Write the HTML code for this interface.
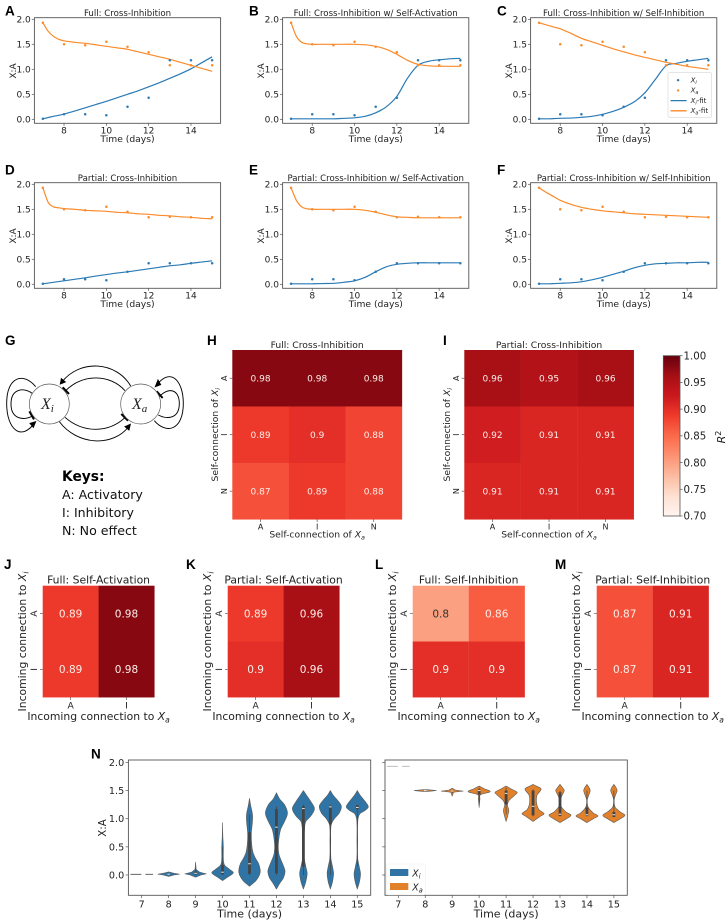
<!DOCTYPE html>
<html lang="en">
<head>
<meta charset="utf-8">
<title>Cross-inhibition model fits</title>
<style>
html,body{margin:0;padding:0;background:#fff;}
#figure{display:block;width:726px;height:920px;font-family:"DejaVu Sans","Liberation Sans",sans-serif;}
</style>
</head>
<body>
<svg id="figure" xmlns="http://www.w3.org/2000/svg" width="726" height="920" viewBox="0 0 726 920">
  <g transform="translate(0,330) scale(0.3333)" fill="none" stroke="#000" stroke-width="2.8">
    <path d="M392,168 C350,95 240,85 184,158"/>
    <path d="M375,182 C330,132 250,130 197,182"/>
    <path d="M195,262 C250,310 325,310 376,262"/>
    <path d="M178,275 C230,345 340,355 390,285"/>
    <path d="M107,170 C70,125 20,140 20,220 C20,300 65,335 105,277"/>
    <path d="M97,190 C70,172 33,175 33,222 C33,270 75,272 97,258"/>
    <path d="M463,272 C500,315 550,300 550,220 C550,150 510,110 468,168"/>
    <path d="M478,200 C505,170 538,178 538,220 C538,268 500,268 475,255"/>
    <path d="M181,162 L184,146 L196,156 Z" fill="#000"/>
    <path d="M391,283 L375,290 L387,300 Z" fill="#000"/>
    <path d="M107,275 L90,280 L100,292 Z" fill="#000"/>
    <path d="M466,170 L482,164 L474,150 Z" fill="#000"/>
    <path d="M188,172 L207,192" stroke-width="6"/>
    <path d="M364,252 L384,272" stroke-width="6"/>
    <path d="M88,244 L102,268" stroke-width="6"/>
    <path d="M470,184 L488,204" stroke-width="6"/>
    <circle cx="148" cy="222" r="60" fill="#fff" stroke="#555" stroke-width="2"/>
    <circle cx="422" cy="222" r="60" fill="#fff" stroke="#555" stroke-width="2"/>
  </g>
  <text x="41" y="409" font-family="'Liberation Serif',serif" font-style="italic" font-size="16" fill="#222">X<tspan dy="3" font-size="11">i</tspan></text>
  <text x="132" y="409" font-family="'Liberation Serif',serif" font-style="italic" font-size="16" fill="#222">X<tspan dy="3" font-size="11">a</tspan></text>
  <text x="62" y="481" font-size="13.8" font-weight="bold" fill="#000">Keys:</text>
  <text x="62" y="499" font-size="12.6" fill="#111">A: Activatory</text>
  <text x="62" y="517" font-size="12.6" fill="#111">I: Inhibitory</text>
  <text x="62" y="535" font-size="12.6" fill="#111">N: No effect</text>
</svg>
<script>
/* ---------- shared data ---------- */
const days = [7, 8, 9, 10, 11, 12, 13, 14, 15];
const fitTimes = [7, 7.25, 7.5, 7.75, 8, 8.5, 9, 9.5, 10, 10.5, 11, 11.5, 12, 12.5, 13, 13.5, 14, 14.5, 15];
const yTicks = [0, 0.5, 1, 1.5, 2];
const xTicks = [8, 10, 12, 14];

const obsXiFull = [0.01, 0.1, 0.1, 0.08, 0.25, 0.43, 1.18, 1.18, 1.18];
const obsXaFull = [1.93, 1.5, 1.48, 1.55, 1.45, 1.34, 1.08, 1.08, 1.08];
const obsXiPartial = [0.01, 0.1, 0.1, 0.08, 0.25, 0.42, 0.42, 0.42, 0.42];
const obsXaPartial = [1.93, 1.5, 1.48, 1.55, 1.45, 1.34, 1.35, 1.34, 1.34];

const fitAXi = [0.01, 0.035, 0.06, 0.08, 0.105, 0.165, 0.23, 0.295, 0.36, 0.43, 0.5, 0.57, 0.65, 0.73, 0.82, 0.91, 1.01, 1.13, 1.25];
const fitAXa = [1.93, 1.76, 1.66, 1.6, 1.57, 1.54, 1.52, 1.49, 1.46, 1.43, 1.4, 1.35, 1.3, 1.25, 1.2, 1.14, 1.08, 1.02, 0.96];
const fitBXi = [0.01, 0.01, 0.01, 0.01, 0.01, 0.01, 0.01, 0.02, 0.03, 0.06, 0.13, 0.25, 0.46, 0.82, 1.08, 1.16, 1.19, 1.21, 1.22];
const fitBXa = [1.93, 1.66, 1.54, 1.51, 1.5, 1.5, 1.5, 1.5, 1.5, 1.49, 1.46, 1.4, 1.3, 1.18, 1.1, 1.07, 1.06, 1.06, 1.06];
const fitCXi = [0.01, 0.01, 0.01, 0.015, 0.02, 0.025, 0.04, 0.06, 0.1, 0.16, 0.24, 0.35, 0.53, 0.8, 1.07, 1.12, 1.16, 1.19, 1.22];
const fitCXa = [1.93, 1.9, 1.87, 1.84, 1.81, 1.72, 1.62, 1.55, 1.48, 1.41, 1.35, 1.29, 1.24, 1.19, 1.14, 1.1, 1.06, 1.03, 1.0];
const fitDXi = [0.01, 0.025, 0.04, 0.055, 0.07, 0.1, 0.13, 0.165, 0.195, 0.225, 0.25, 0.28, 0.31, 0.34, 0.37, 0.39, 0.42, 0.445, 0.47];
const fitDXa = [1.93, 1.64, 1.55, 1.53, 1.515, 1.5, 1.48, 1.47, 1.46, 1.44, 1.43, 1.41, 1.4, 1.38, 1.37, 1.35, 1.34, 1.32, 1.31];
const fitEXi = [0.01, 0.01, 0.01, 0.01, 0.01, 0.015, 0.02, 0.04, 0.07, 0.14, 0.25, 0.35, 0.4, 0.42, 0.43, 0.43, 0.43, 0.43, 0.43];
const fitEXa = [1.93, 1.68, 1.55, 1.51, 1.5, 1.5, 1.5, 1.5, 1.5, 1.48, 1.44, 1.39, 1.35, 1.34, 1.33, 1.33, 1.33, 1.33, 1.33];
const fitFXi = [0.01, 0.01, 0.01, 0.015, 0.02, 0.03, 0.05, 0.09, 0.14, 0.2, 0.26, 0.33, 0.38, 0.41, 0.42, 0.43, 0.43, 0.44, 0.44];
const fitFXa = [1.93, 1.86, 1.8, 1.74, 1.68, 1.6, 1.54, 1.5, 1.47, 1.45, 1.43, 1.41, 1.4, 1.39, 1.38, 1.37, 1.36, 1.35, 1.34];

/* heatmap values: rows then columns */
const heatH = [[0.98, 0.98, 0.98], [0.89, 0.9, 0.88], [0.87, 0.89, 0.88]];
const heatI = [[0.96, 0.95, 0.96], [0.92, 0.91, 0.91], [0.91, 0.91, 0.91]];
const heatJ = [[0.89, 0.98], [0.89, 0.98]];
const heatK = [[0.89, 0.96], [0.9, 0.96]];
const heatL = [[0.8, 0.86], [0.9, 0.9]];
const heatM = [[0.87, 0.91], [0.87, 0.91]];
const catsThree = ["A", "I", "N"];
const catsTwo = ["A", "I"];
const colorbarTicks = [0.7, 0.75, 0.8, 0.85, 0.9, 0.95, 1.0];
const redsStops = ["#fff5f0", "#fee0d2", "#fcbba1", "#fc9272", "#fb6a4a", "#ef3b2c", "#cb181d", "#a50f15", "#67000d"];

/* violin outlines: [value, half-width in days] */
const violinXi = [
  [[0.01, 0.4], [0.011, 0.4]],
  [[-0.025, 0], [0, 0.2], [0.015, 0.4], [0.03, 0.2], [0.055, 0]],
  [[-0.04, 0], [0, 0.2], [0.02, 0.4], [0.05, 0.15], [0.1, 0.02], [0.23, 0]],
  [[-0.1, 0], [-0.04, 0.18], [0.04, 0.4], [0.1, 0.26], [0.18, 0.07], [0.3, 0.03], [0.5, 0.03], [0.7, 0.01], [0.93, 0]],
  [[-0.2, 0], [-0.1, 0.24], [0, 0.37], [0.08, 0.4], [0.2, 0.34], [0.3, 0.22], [0.4, 0.13], [0.55, 0.08], [0.75, 0.07], [0.95, 0.11], [1.08, 0.11], [1.22, 0.05], [1.36, 0]],
  [[-0.25, 0], [-0.15, 0.12], [-0.05, 0.26], [0.06, 0.32], [0.15, 0.27], [0.3, 0.14], [0.4, 0.08], [0.55, 0.07], [0.8, 0.15], [0.95, 0.3], [1.1, 0.41], [1.25, 0.3], [1.35, 0.12], [1.46, 0]],
  [[-0.25, 0], [-0.12, 0.09], [0.03, 0.14], [0.15, 0.09], [0.3, 0.03], [0.55, 0.02], [0.8, 0.04], [0.95, 0.09], [1.05, 0.28], [1.18, 0.41], [1.3, 0.28], [1.42, 0.11], [1.5, 0]],
  [[-0.25, 0], [-0.12, 0.08], [0.03, 0.12], [0.15, 0.08], [0.3, 0.02], [0.6, 0.015], [0.89, 0.03], [1.0, 0.15], [1.1, 0.33], [1.22, 0.41], [1.32, 0.28], [1.42, 0.1], [1.5, 0]],
  [[-0.25, 0], [-0.12, 0.08], [0.02, 0.12], [0.15, 0.07], [0.3, 0.015], [0.6, 0.012], [0.97, 0.02], [1.09, 0.1], [1.15, 0.3], [1.21, 0.41], [1.3, 0.3], [1.42, 0.1], [1.5, 0]]
];
const violinXa = [
  [[1.93, 0.4], [1.931, 0.4]],
  [[1.485, 0.1], [1.5, 0.41], [1.515, 0.1]],
  [[1.4, 0], [1.47, 0.05], [1.49, 0.41], [1.51, 0.12], [1.54, 0]],
  [[1.2, 0], [1.35, 0.03], [1.43, 0.06], [1.48, 0.41], [1.53, 0.2], [1.58, 0]],
  [[0.95, 0], [1.05, 0.06], [1.15, 0.1], [1.25, 0.05], [1.33, 0.12], [1.42, 0.33], [1.47, 0.41], [1.52, 0.22], [1.58, 0]],
  [[0.95, 0], [1.04, 0.26], [1.09, 0.41], [1.16, 0.22], [1.28, 0.13], [1.42, 0.15], [1.53, 0.3], [1.58, 0.12], [1.61, 0]],
  [[0.93, 0], [1.0, 0.24], [1.06, 0.41], [1.12, 0.22], [1.22, 0.04], [1.33, 0.02], [1.42, 0.08], [1.5, 0.16], [1.56, 0.08], [1.61, 0]],
  [[0.93, 0], [1.0, 0.24], [1.05, 0.41], [1.1, 0.24], [1.2, 0.05], [1.33, 0.01], [1.42, 0.07], [1.5, 0.12], [1.56, 0.07], [1.61, 0]],
  [[0.93, 0], [1.0, 0.24], [1.06, 0.41], [1.12, 0.24], [1.2, 0.05], [1.33, 0.01], [1.42, 0.06], [1.5, 0.12], [1.56, 0.07], [1.61, 0]]
];
const medianXi = [0.01, 0.015, 0.03, 0.05, 0.2, 0.85, 1.18, 1.21, 1.2];
const q1Xi = [0.01, 0.01, 0.01, 0.01, 0.02, 0.03, 0.15, 0.9, 1.17];
const q3Xi = [0.01, 0.03, 0.06, 0.18, 0.76, 1.17, 1.22, 1.23, 1.24];
const whiskLowXi = [0.01, 0.01, 0.0, 0.0, 0.0, 0.0, 0.0, 0.0, 0.15];
const whiskHighXi = [0.01, 0.03, 0.12, 0.5, 1.08, 1.22, 1.25, 1.25, 1.25];
const medianXa = [1.93, 1.5, 1.49, 1.5, 1.45, 1.22, 1.08, 1.07, 1.07];
const q1Xa = [1.93, 1.49, 1.48, 1.43, 1.25, 1.06, 1.05, 1.05, 1.03];
const q3Xa = [1.93, 1.51, 1.5, 1.52, 1.5, 1.5, 1.47, 1.2, 1.12];
const whiskLowXa = [1.93, 1.49, 1.45, 1.25, 1.08, 1.04, 1.04, 1.04, 1.03];
const whiskHighXa = [1.93, 1.51, 1.5, 1.55, 1.55, 1.52, 1.5, 1.5, 1.5];

/* ---------- helpers ---------- */
const SVGNS = "http://www.w3.org/2000/svg";
const figure = document.getElementById("figure");
const BLUE = "#2a7ab5", ORANGE = "#fb8a2a", SPINE = "#555", INK = "#222";

function add(tag, attrs, name, parent) {
  const el = document.createElementNS(SVGNS, tag);
  for (const k in attrs) el.setAttribute(k, attrs[k]);
  
  
  (parent || figure).appendChild(el);
  return el;
}
function label(x, y, html, size, name, parent, extra) {
  const el = add("text", Object.assign({ x: x, y: y, "font-size": size, fill: INK, "text-anchor": "middle" }, extra || {}), name, parent);
  el.innerHTML = html;
  return el;
}
function sub(letter, size) {
  return '<tspan font-style="italic">X</tspan><tspan font-style="italic" dy="' + (size * 0.22) + '" font-size="' + (size * 0.7) + '">' + letter + '</tspan>';
}
/* spline through pts, with idx (0 = x, 1 = y) as the independent coordinate */
function splineSegs(pts, idx) {
  const dep = 1 - idx, n = pts.length;
  const slope = pts.map(function (p, i) {
    const a = pts[Math.max(i - 1, 0)], b = pts[Math.min(i + 1, n - 1)];
    return (b[dep] - a[dep]) / (b[idx] - a[idx]);
  });
  let d = "";
  for (let i = 0; i < n - 1; i++) {
    const du = pts[i + 1][idx] - pts[i][idx];
    const c1 = [0, 0], c2 = [0, 0];
    c1[idx] = pts[i][idx] + du / 3;
    c1[dep] = pts[i][dep] + slope[i] * du / 3;
    c2[idx] = pts[i + 1][idx] - du / 3;
    c2[dep] = pts[i + 1][dep] - slope[i + 1] * du / 3;
    d += " C" + c1[0].toFixed(2) + "," + c1[1].toFixed(2) + " " + c2[0].toFixed(2) + "," + c2[1].toFixed(2) + " " + pts[i + 1][0].toFixed(2) + "," + pts[i + 1][1].toFixed(2);
  }
  return d;
}
function redsColor(v) {
  const t = Math.max(0, Math.min(1, (v - 0.7) / 0.3)) * (redsStops.length - 1);
  const i = Math.min(Math.floor(t), redsStops.length - 2), f = t - i;
  const a = redsStops[i], b = redsStops[i + 1];
  const ch = function (s, o) { return parseInt(s.substr(o, 2), 16); };
  const mix = function (o) { return Math.round(ch(a, o) + (ch(b, o) - ch(a, o)) * f); };
  return "rgb(" + mix(1) + "," + mix(3) + "," + mix(5) + ")";
}
function panelLetter(text, x, y) {
  const el = add("text", { x: x, y: y, "font-size": 13.5, "font-weight": "bold", "font-family": "'Liberation Sans',sans-serif", fill: "#000" }, "panel-letter-" + text.toLowerCase());
  el.textContent = text;
}

/* ---------- line panels ---------- */
function linePanel(cfg) {
  const id = cfg.letter.toLowerCase();
  const g = add("g", {}, "panel-" + id + "-time-series");
  const W = 186.2, H = 105.6, L = cfg.left, T = cfg.top, R = L + W, B = T + H;
  const x = function (t) { return L + (t - 6.6) * W / 8.8; };
  const y = function (v) { return T + 101.6 - v * 50; };
  const ln = function (pts, color, nm) {
    add("path", { d: "M" + pts[0][0].toFixed(2) + "," + pts[0][1].toFixed(2) + splineSegs(pts, 0), fill: "none", stroke: color, "stroke-width": 1.2, "stroke-linejoin": "round" }, nm, g);
  };
  ln(cfg.fitXi.map(function (v, i) { return [x(fitTimes[i]), y(v)]; }), BLUE, "xi-fit-line");
  ln(cfg.fitXa.map(function (v, i) { return [x(fitTimes[i]), y(v)]; }), ORANGE, "xa-fit-line");
  days.forEach(function (d, i) {
    add("circle", { cx: x(d), cy: y(cfg.obsXi[i]), r: 1.25, fill: BLUE }, "xi-point-day-" + d, g);
    add("circle", { cx: x(d), cy: y(cfg.obsXa[i]), r: 1.25, fill: ORANGE }, "xa-point-day-" + d, g);
  });
  add("rect", { x: L, y: T, width: W, height: H, fill: "none", stroke: SPINE, "stroke-width": 0.9 }, "plot-frame", g);
  yTicks.forEach(function (v) {
    add("line", { x1: L - 2.6, x2: L, y1: y(v), y2: y(v), stroke: SPINE, "stroke-width": 0.7 }, "y-tick-mark", g);
    label(L - 3.6, y(v) + 3.3, v.toFixed(1), 9, "y-tick-label", g, { "text-anchor": "end" });
  });
  xTicks.forEach(function (t) {
    add("line", { x1: x(t), x2: x(t), y1: B, y2: B + 2.6, stroke: SPINE, "stroke-width": 0.7 }, "x-tick-mark", g);
    label(x(t), B + 10, String(t), 9, "x-tick-label", g);
  });
  label(L + W / 2, B + 18.6, "Time (days)", 9.2, "x-axis-title", g);
  label(0, 0, "X:A", 9, "y-axis-title", g, { transform: "translate(" + (L - 18.4) + "," + (T + H / 2 + 0.5) + ") rotate(-90)" });
  label(L + W / 2, T - 1.6, cfg.title, 8.6, "panel-title", g);
  if (cfg.legend) {
    const lg = add("g", {}, "fit-legend", g);
    add("rect", { x: L + 137.4, y: T + 55, width: 43.6, height: 44.6, rx: 1.5, fill: "#fff", "fill-opacity": 0.85, stroke: "#d5d5d5", "stroke-width": 0.6 }, "legend-box", lg);
    const rows = [["Xi-dot", "i", BLUE], ["Xa-dot", "a", ORANGE], ["Xi-line", "i", BLUE], ["Xa-line", "a", ORANGE]];
    rows.forEach(function (r, i) {
      const ry = T + 62.5 + i * 10.2;
      if (i < 2) add("circle", { cx: L + 147.5, cy: ry, r: 1.2, fill: r[2] }, "legend-marker", lg);
      else add("line", { x1: L + 140, x2: L + 156, y1: ry, y2: ry, stroke: r[2], "stroke-width": 1.3 }, "legend-line", lg);
      label(L + 160, ry + 2.3, sub(r[1], 7) + (i >= 2 ? '<tspan dy="-1.5">-fit</tspan>' : ""), 7, "legend-label", lg, { "text-anchor": "start" });
    });
  }
}
linePanel({ letter: "A", title: "Full: Cross-Inhibition", left: 34.4, top: 17.7, obsXi: obsXiFull, obsXa: obsXaFull, fitXi: fitAXi, fitXa: fitAXa });
linePanel({ letter: "B", title: "Full: Cross-Inhibition w/ Self-Activation", left: 282.6, top: 17.7, obsXi: obsXiFull, obsXa: obsXaFull, fitXi: fitBXi, fitXa: fitBXa });
linePanel({ letter: "C", title: "Full: Cross-Inhibition w/ Self-Inhibition", left: 530.6, top: 17.7, obsXi: obsXiFull, obsXa: obsXaFull, fitXi: fitCXi, fitXa: fitCXa, legend: true });
linePanel({ letter: "D", title: "Partial: Cross-Inhibition", left: 34.4, top: 182.7, obsXi: obsXiPartial, obsXa: obsXaPartial, fitXi: fitDXi, fitXa: fitDXa });
linePanel({ letter: "E", title: "Partial: Cross-Inhibition w/ Self-Activation", left: 282.6, top: 182.7, obsXi: obsXiPartial, obsXa: obsXaPartial, fitXi: fitEXi, fitXa: fitEXa });
linePanel({ letter: "F", title: "Partial: Cross-Inhibition w/ Self-Inhibition", left: 530.6, top: 182.7, obsXi: obsXiPartial, obsXa: obsXaPartial, fitXi: fitFXi, fitXa: fitFXa });

/* ---------- heatmaps ---------- */
function heatmap(cfg) {
  const g = add("g", {}, "panel-" + cfg.letter.toLowerCase() + "-heatmap");
  const rows = cfg.values.length, cols = cfg.values[0].length;
  const cw = cfg.w / cols, ch = cfg.h / rows;
  cfg.values.forEach(function (row, r) {
    row.forEach(function (v, c) {
      add("rect", { x: cfg.x + c * cw, y: cfg.y + r * ch, width: cw + 0.15, height: ch + 0.15, fill: redsColor(v) }, "heatmap-cell", g);
      label(cfg.x + (c + 0.5) * cw, cfg.y + (r + 0.5) * ch + cfg.annot * 0.36, String(v), cfg.annot, "cell-value", g, { fill: v < 0.82 ? "#333" : "#fbeee8" });
    });
  });
  cfg.cats.forEach(function (cat, i) {
    const tx = cfg.x + (i + 0.5) * cw, ty = cfg.y + (i + 0.5) * ch;
    add("line", { x1: tx, x2: tx, y1: cfg.y + cfg.h, y2: cfg.y + cfg.h + 2.6, stroke: SPINE, "stroke-width": 0.7 }, "x-tick-mark", g);
    add("line", { x1: cfg.x - 2.6, x2: cfg.x, y1: ty, y2: ty, stroke: SPINE, "stroke-width": 0.7 }, "y-tick-mark", g);
    label(tx, cfg.y + cfg.h + cfg.tick + 2.2, cat, cfg.tick, "x-tick-label", g);
    label(0, 0, cat, cfg.tick, "y-tick-label", g, { transform: "translate(" + (cfg.x - 5.5) + "," + ty + ") rotate(-90)" });
  });
  label(cfg.x + cfg.w / 2, cfg.y - 2.2, cfg.title, cfg.titleSize, "panel-title", g);
  label(cfg.x + cfg.w / 2, cfg.y + cfg.h + cfg.xlabelGap, cfg.xlabel + sub("a", cfg.labelSize), cfg.labelSize, "x-axis-title", g);
  label(0, 0, cfg.ylabel + sub("i", cfg.labelSize), cfg.labelSize, "y-axis-title", g, { transform: "translate(" + (cfg.x - cfg.ylabelGap) + "," + (cfg.y + cfg.h / 2) + ") rotate(-90)" });
}
const bigX = "Self-connection of ", bigY = "Self-connection of ";
heatmap({ letter: "H", values: heatH, cats: catsThree, x: 232.3, y: 350, w: 169.7, h: 169.4, annot: 9, tick: 8, title: "Full: Cross-Inhibition", titleSize: 9.2, labelSize: 9.2, xlabel: bigX, ylabel: bigY, xlabelGap: 18.2, ylabelGap: 14.5 });
heatmap({ letter: "I", values: heatI, cats: catsThree, x: 464.3, y: 350, w: 169.5, h: 169.4, annot: 9, tick: 8, title: "Partial: Cross-Inhibition", titleSize: 9.2, labelSize: 9.2, xlabel: bigX, ylabel: bigY, xlabelGap: 18.2, ylabelGap: 14.5 });
const inX = "Incoming connection to ", inY = "Incoming connection to ";
heatmap({ letter: "J", values: heatJ, cats: catsTwo, x: 42.7, y: 585.7, w: 111.7, h: 111.6, annot: 10.5, tick: 9.2, title: "Full: Self-Activation", titleSize: 10.8, labelSize: 10.8, xlabel: inX, ylabel: inY, xlabelGap: 22.7, ylabelGap: 16.7 });
heatmap({ letter: "K", values: heatK, cats: catsTwo, x: 227.7, y: 585.7, w: 111.7, h: 111.6, annot: 10.5, tick: 9.2, title: "Partial: Self-Activation", titleSize: 10.8, labelSize: 10.8, xlabel: inX, ylabel: inY, xlabelGap: 22.7, ylabelGap: 16.7 });
heatmap({ letter: "L", values: heatL, cats: catsTwo, x: 412.7, y: 585.7, w: 112, h: 111.6, annot: 10.5, tick: 9.2, title: "Full: Self-Inhibition", titleSize: 10.8, labelSize: 10.8, xlabel: inX, ylabel: inY, xlabelGap: 22.7, ylabelGap: 16.7 });
heatmap({ letter: "M", values: heatM, cats: catsTwo, x: 596.7, y: 585.7, w: 112, h: 111.6, annot: 10.5, tick: 9.2, title: "Partial: Self-Inhibition", titleSize: 10.8, labelSize: 10.8, xlabel: inX, ylabel: inY, xlabelGap: 22.7, ylabelGap: 16.7 });

/* ---------- colourbar ---------- */
(function () {
  const g = add("g", {}, "r-squared-colorbar");
  const defs = add("defs", {}, "colorbar-defs", g);
  const grad = add("linearGradient", { id: "redsGrad", x1: 0, y1: 1, x2: 0, y2: 0 }, "colorbar-gradient", defs);
  redsStops.forEach(function (c, i) {
    add("stop", { offset: i / (redsStops.length - 1), "stop-color": c }, "colorbar-stop", grad);
  });
  const x0 = 663.3, w = 16.7, top = 355.7, h = 160.3;
  const cy = function (v) { return top + h - (v - 0.7) / 0.3 * h; };
  add("rect", { x: x0, y: top, width: w, height: h, fill: "url(#redsGrad)", stroke: SPINE, "stroke-width": 0.8 }, "colorbar-bar", g);
  colorbarTicks.forEach(function (v) {
    add("line", { x1: x0 + w, x2: x0 + w + 2.6, y1: cy(v), y2: cy(v), stroke: SPINE, "stroke-width": 0.7 }, "colorbar-tick", g);
    label(x0 + w + 3.5, cy(v) + 3.7, v.toFixed(2), 10.2, "colorbar-tick-label", g, { "text-anchor": "start" });
  });
  label(0, 0, '<tspan font-style="italic">R</tspan><tspan dy="-3.8" font-size="8">2</tspan>', 11, "colorbar-title", g, { transform: "translate(725,437) rotate(-90)" });
})();

/* ---------- violins ---------- */
function violinPanel(cfg) {
  const g = add("g", {}, cfg.name);
  const L = cfg.left, R = cfg.right, T = 760, B = 895.3;
  const x = function (d) { return cfg.x7 + (d - 7) * 26.95; };
  const y = function (v) { return 875 - v * 56.3; };
  days.forEach(function (d, i) {
    const prof = cfg.profiles[i];
    const vg = add("g", {}, "violin-day-" + d, g);
    if (i === 0) {
      add("line", { x1: x(d) - 0.42 * 26.95, x2: x(d) + 0.42 * 26.95, y1: y(prof[0][0]), y2: y(prof[0][0]), stroke: cfg.flat, "stroke-width": 1, "stroke-dasharray": "11,4" }, "violin-flat-line", vg);
      return;
    }
    const right = prof.map(function (p) { return [x(d) + p[1] * 26.95, y(p[0])]; });
    const left = prof.map(function (p) { return [x(d) - p[1] * 26.95, y(p[0])]; }).reverse();
    const dPath = i < 3
      ? "M" + right.concat(left).map(function (p) { return p[0].toFixed(2) + "," + p[1].toFixed(2); }).join(" L") + " Z"
      : "M" + right[0][0].toFixed(2) + "," + right[0][1].toFixed(2) + splineSegs(right, 1) + " L" + left[0][0].toFixed(2) + "," + left[0][1].toFixed(2) + splineSegs(left, 1) + " Z";
    add("path", { d: dPath, fill: cfg.color, stroke: "#5a5a5a", "stroke-width": 0.6, "stroke-linejoin": "round" }, "violin-body", vg);
    add("line", { x1: x(d), x2: x(d), y1: y(cfg.whiskLow[i]), y2: y(cfg.whiskHigh[i]), stroke: "#444", "stroke-width": 0.7 }, "violin-whisker", vg);
    add("line", { x1: x(d), x2: x(d), y1: y(cfg.q1[i]), y2: y(cfg.q3[i]), stroke: "#444", "stroke-width": 2.8 }, "violin-quartile-bar", vg);
    add("line", { x1: x(d) - 1.3, x2: x(d) + 1.3, y1: y(cfg.median[i]), y2: y(cfg.median[i]), stroke: "#e8e8e8", "stroke-width": 1 }, "violin-median", vg);
  });
  add("rect", { x: L, y: T, width: R - L, height: B - T, fill: "none", stroke: SPINE, "stroke-width": 0.9 }, "plot-frame", g);
  yTicks.forEach(function (v) {
    add("line", { x1: L - 2.8, x2: L, y1: y(v), y2: y(v), stroke: SPINE, "stroke-width": 0.7 }, "y-tick-mark", g);
    if (cfg.showY) label(L - 4.2, y(v) + 3.5, v.toFixed(1), 9.6, "y-tick-label", g, { "text-anchor": "end" });
  });
  days.forEach(function (d) {
    add("line", { x1: x(d), x2: x(d), y1: B, y2: B + 2.8, stroke: SPINE, "stroke-width": 0.7 }, "x-tick-mark", g);
    label(x(d), B + 12, String(d), 9.6, "x-tick-label", g);
  });
  label((L + R) / 2, B + 22.4, "Time (days)", 11, "x-axis-title", g);
  if (cfg.showY) label(0, 0, "X:A", 10.2, "y-axis-title", g, { transform: "translate(" + (L - 22.4) + ",828) rotate(-90)" });
}
violinPanel({ name: "panel-n-xi-violins", left: 128.4, right: 370.7, x7: 141.7, color: "#2f74a4", flat: "#666", profiles: violinXi, median: medianXi, q1: q1Xi, q3: q3Xi, whiskLow: whiskLowXi, whiskHigh: whiskHighXi, showY: true });
violinPanel({ name: "panel-n-xa-violins", left: 385, right: 627.3, x7: 398.3, color: "#e1812c", flat: "#bdbdbd", profiles: violinXa, median: medianXa, q1: q1Xa, q3: q3Xa, whiskLow: whiskLowXa, whiskHigh: whiskHighXa, showY: false });
(function () {
  const g = add("g", {}, "violin-legend");
  add("rect", { x: 386.7, y: 864, width: 38.5, height: 30.8, rx: 1.5, fill: "#fff", "fill-opacity": 0.85, stroke: "#eee", "stroke-width": 0.6 }, "legend-box", g);
  add("rect", { x: 390, y: 869, width: 18.3, height: 7, fill: "#2f74a4" }, "legend-swatch-xi", g);
  add("rect", { x: 390, y: 883, width: 18.3, height: 7, fill: "#e1812c" }, "legend-swatch-xa", g);
  label(412.3, 876.5, sub("i", 9.4), 9.4, "legend-label-xi", g, { "text-anchor": "start" });
  label(412.3, 890.5, sub("a", 9.4), 9.4, "legend-label-xa", g, { "text-anchor": "start" });
})();

/* ---------- panel letters ---------- */
const letterRows = [["A", 5, 15.7], ["B", 249, 15.7], ["C", 497, 15.7], ["D", 5, 174.5], ["E", 249, 174.5], ["F", 497, 174.5], ["G", 5, 345], ["H", 207, 345], ["I", 443, 345], ["J", 4, 569], ["K", 186, 569], ["L", 375, 569], ["M", 555, 569], ["N", 91, 758.3]];
letterRows.forEach(function (r) { panelLetter(r[0], r[1], r[2]); });
</script>
</body>
</html>
